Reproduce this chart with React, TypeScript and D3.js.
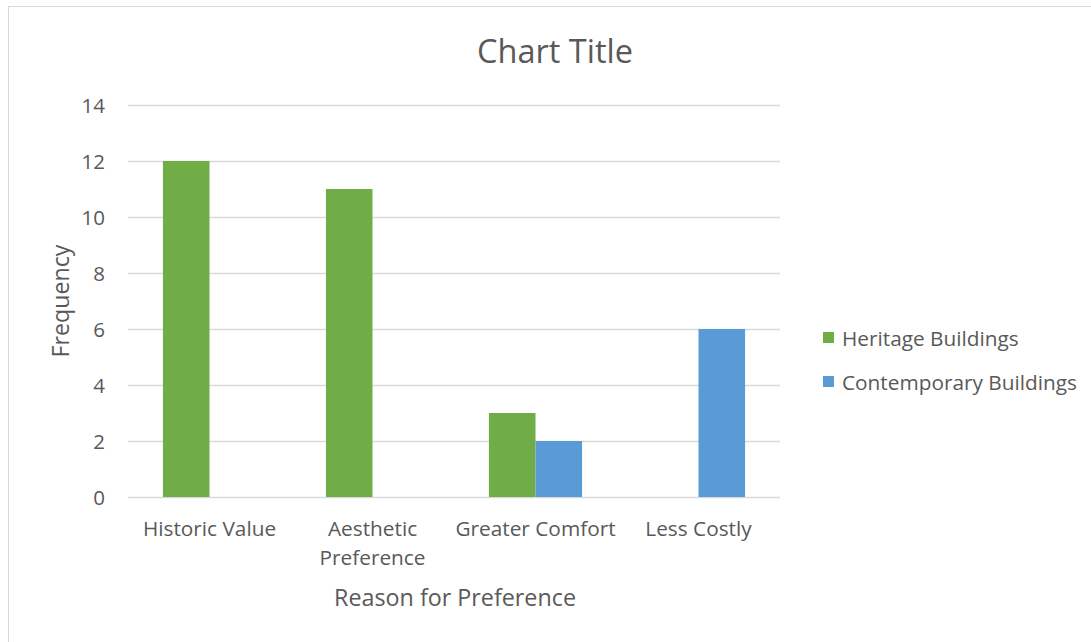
import React from "react";
import * as d3 from "d3";

const categories = ["Historic Value", "Aesthetic Preference", "Greater Comfort", "Less Costly"];
const categoryLines = [["Historic Value"], ["Aesthetic", "Preference"], ["Greater Comfort"], ["Less Costly"]];
const seriesNames = ["Heritage Buildings", "Contemporary Buildings"];
const heritage = [12, 11, 3, 0];
const contemporary = [0, 0, 2, 6];
const yTicks = [0, 2, 4, 6, 8, 10, 12, 14];
const colors = ["#70AD47", "#5B9BD5"];

const FONT = "'Open Sans', sans-serif";
const TXT = "#595959";

export default function App() {
  const W = 1091, H = 642;
  const left = 128, right = 780, top = 105, bottom = 497;
  const x = d3.scaleBand<string>().domain(categories).range([left, right]).paddingInner(0).paddingOuter(0);
  const y = d3.scaleLinear().domain([0, 14]).range([bottom, top]);
  const bw = x.bandwidth();
  const barW = bw / 3.5;
  const series = [heritage, contemporary];

  return (
    <svg width={W} height={H} style={{ position: "absolute", left: 0, top: 0 }}>
      <rect x={0} y={0} width={W} height={H} fill="#fff" />
      <rect x={8.5} y={6.5} width={W + 10} height={H + 10} fill="none" stroke="#d9d9d9" strokeWidth={1} />
      <text x={555} y={50} textAnchor="middle" dominantBaseline="central" fontFamily={FONT} fontSize={32.5} fill={TXT}>Chart Title</text>
      {yTicks.map((t) => (
        <g key={t}>
          <line x1={left} x2={right} y1={Math.round(y(t)) + 0.5} y2={Math.round(y(t)) + 0.5} stroke="#d9d9d9" strokeWidth={1.3} />
          <text x={105} y={y(t)} textAnchor="end" dominantBaseline="central" fontFamily={FONT} fontSize={20.5} fill={TXT}>{t}</text>
        </g>
      ))}
      {series.map((vals, si) =>
        vals.map((v, ci) => {
          if (v === 0) return null;
          const cx = (x(categories[ci]) as number) + bw / 2;
          const x0 = cx - barW + si * barW;
          return <rect key={`${si}-${ci}`} x={x0} y={y(v)} width={barW} height={y(0) - y(v)} fill={colors[si]} />;
        })
      )}
      {categoryLines.map((lines, ci) => (
        <text key={ci} textAnchor="middle" fontFamily={FONT} fontSize={20.8} fill={TXT}>
          {lines.map((l, li) => (
            <tspan key={li} x={(x(categories[ci]) as number) + bw / 2} y={528 + li * 29} dominantBaseline="central">{l}</tspan>
          ))}
        </text>
      ))}
      <text x={455} y={597} textAnchor="middle" dominantBaseline="central" fontFamily={FONT} fontSize={23.3} fill={TXT}>Reason for Preference</text>
      <text transform={`translate(60,${(top + bottom) / 2}) rotate(-90)`} textAnchor="middle" dominantBaseline="central" fontFamily={FONT} fontSize={23.2} fill={TXT}>Frequency</text>
      {seriesNames.map((n, i) => (
        <g key={n}>
          <rect x={823} y={332 + i * 44} width={11} height={11} fill={colors[i]} />
          <text x={842} y={338 + i * 44} dominantBaseline="central" fontFamily={FONT} fontSize={20.8} fill={TXT}>{n}</text>
        </g>
      ))}
    </svg>
  );
}
